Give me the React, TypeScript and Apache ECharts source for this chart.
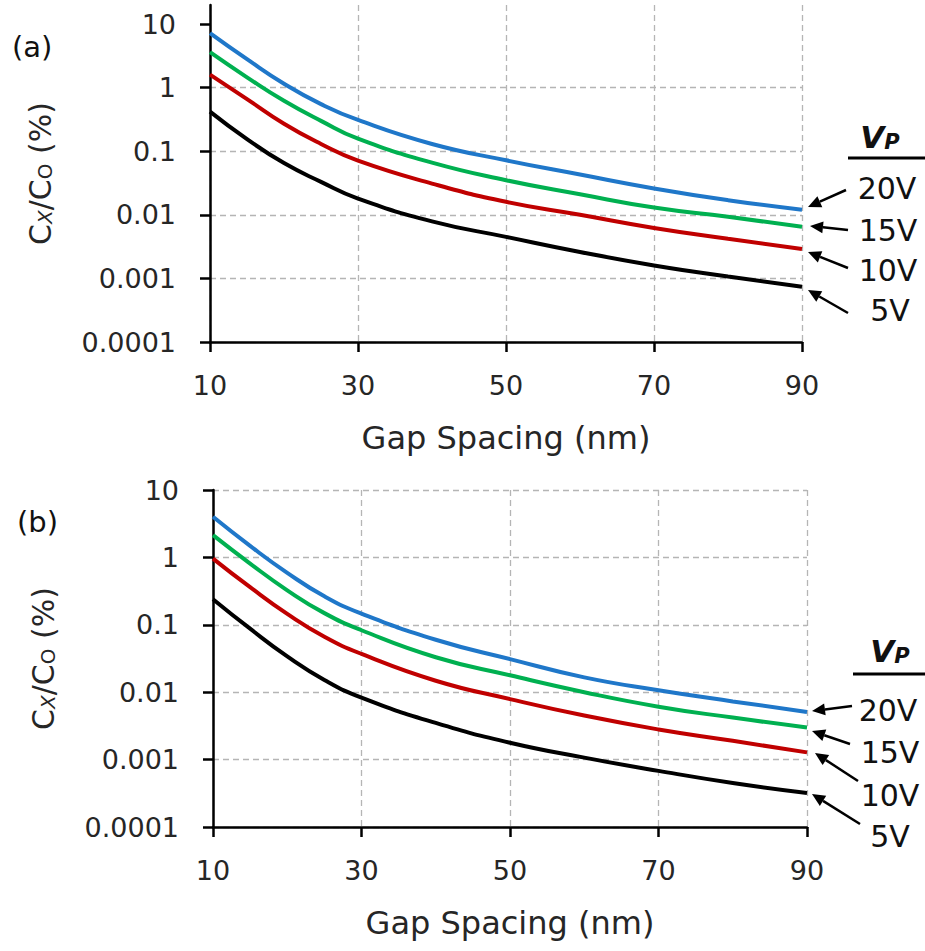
import React, { useEffect, useRef } from 'react';
import * as echarts from 'echarts';

// Gap spacing (nm) sampled along the curves
const GAP_NM = [10, 15, 20, 25, 30, 40, 50, 60, 70, 80, 90];

// Panel (a) : Cx/Co (%)
const A_20V = [7.2, 2.8, 1.15, 0.55, 0.31, 0.13, 0.072, 0.043, 0.026, 0.017, 0.012];
const A_15V = [3.6, 1.45, 0.62, 0.3, 0.157, 0.066, 0.035, 0.021, 0.013, 0.0093, 0.0065];
const A_10V = [1.6, 0.66, 0.27, 0.13, 0.071, 0.031, 0.016, 0.01, 0.0062, 0.0042, 0.0029];
const A_5V = [0.42, 0.155, 0.065, 0.033, 0.018, 0.0079, 0.0045, 0.0026, 0.0016, 0.00107, 0.00074];

// Panel (b) : Cx/Co (%)
const B_20V = [4.0, 1.48, 0.59, 0.265, 0.146, 0.06, 0.031, 0.0166, 0.0107, 0.0073, 0.0051];
const B_15V = [2.14, 0.81, 0.325, 0.149, 0.083, 0.033, 0.0178, 0.01, 0.0061, 0.0042, 0.003];
const B_10V = [0.96, 0.361, 0.145, 0.0665, 0.037, 0.0148, 0.0079, 0.0045, 0.0028, 0.0019, 0.00128];
const B_5V = [0.24, 0.0875, 0.034, 0.0152, 0.0083, 0.0035, 0.00178, 0.00107, 0.00068, 0.00045, 0.00032];

const VOLT_LABELS = ['20V', '15V', '10V', '5V'];
const SERIES_COLORS = ['#1f77c9', '#00b050', '#c00000', '#000000'];
const PANEL_LABELS = ['(a)', '(b)'];
const PANELS = [
  [A_20V, A_15V, A_10V, A_5V],
  [B_20V, B_15V, B_10V, B_5V],
];

const X_MIN = 10;
const X_MAX = 90;
const X_STEP = 20;
const Y_TICK_LABELS = ['0.0001', '0.001', '0.01', '0.1', '1', '10'];
const Y_TICK_VALUES = Y_TICK_LABELS.map(Number);
const Y_MIN = 0.0001;
const Y_MAX_A = 19.9; // panel (a) plot area runs a bit above 10
const Y_MAX_B = 10;

const FONT = 'DejaVu Sans';
const TEXT_COLOR = '#262626';

const yLabel = (v: number) => {
  for (let i = 0; i < Y_TICK_VALUES.length; i++) {
    if (Math.abs(v - Y_TICK_VALUES[i]) / Y_TICK_VALUES[i] < 0.01) return Y_TICK_LABELS[i];
  }
  return '';
};

const arrow = (x1: number, y1: number, x2: number, y2: number) => {
  const a = Math.atan2(y2 - y1, x2 - x1);
  const L = 13;
  const W = 6;
  const c = Math.cos(a);
  const s = Math.sin(a);
  const bx = x2 - L * c;
  const by = y2 - L * s;
  return [
    {
      type: 'line',
      shape: { x1, y1, x2: bx, y2: by },
      style: { stroke: '#000', lineWidth: 2.5 },
      silent: true,
    },
    {
      type: 'polygon',
      shape: { points: [[x2, y2], [bx + W * s, by - W * c], [bx - W * s, by + W * c]] },
      style: { fill: '#000' },
      silent: true,
    },
  ];
};

const txt = (text: string, x: number, y: number, size: number, align = 'center') => ({
  type: 'text',
  x,
  y,
  silent: true,
  style: {
    text,
    x: 0,
    y: 0,
    fill: '#111',
    font: `${size}px "${FONT}"`,
    fontSize: size,
    fontFamily: FONT,
    align,
    verticalAlign: 'middle',
    textAlign: align,
    textVerticalAlign: 'middle',
  },
});

const vpText = (x: number, y: number) => ({
  type: 'text',
  x,
  y,
  silent: true,
  style: {
    text: '{v|V}{p|P}',
    align: 'center',
    verticalAlign: 'middle',
    textAlign: 'center',
    textVerticalAlign: 'middle',
    rich: {
      v: { fontSize: 31, fontWeight: 'bold', fontStyle: 'italic', fontFamily: FONT, lineHeight: 32, verticalAlign: 'bottom', fill: '#111', color: '#111' },
      p: { fontSize: 21, fontWeight: 'bold', fontStyle: 'italic', fontFamily: FONT, lineHeight: 10, verticalAlign: 'bottom', fill: '#111', color: '#111' },
    },
  },
});

// annotation layout (pixels)
const ANNOT = [
  {
    panel: { x: 12, y: 47 },
    vp: { x: 880, y: 136 },
    rule: { x1: 848, x2: 925, y: 158 },
    labels: [
      { x: 887, y: 188 },
      { x: 888, y: 230 },
      { x: 888, y: 270 },
      { x: 890, y: 310 },
    ],
    arrows: [
      [846, 190, 808, 207],
      [848, 230, 810, 226],
      [848, 268, 808, 252],
      [848, 313, 808, 290],
    ],
  },
  {
    panel: { x: 17, y: 522 },
    vp: { x: 890, y: 650 },
    rule: { x1: 853, x2: 925, y: 674 },
    labels: [
      { x: 888, y: 710 },
      { x: 890, y: 752 },
      { x: 890, y: 795 },
      { x: 890, y: 836 },
    ],
    arrows: [
      [852, 706, 812, 711],
      [850, 744, 812, 731],
      [858, 781, 815, 753],
      [860, 824, 812, 794],
    ],
  },
];

const GRIDS = [
  { left: 210, top: 5, width: 592, height: 337 },
  { left: 213, top: 490, width: 594, height: 337 },
];

export default function App() {
  const ref = useRef<HTMLDivElement>(null);

  useEffect(() => {
    if (!ref.current) return;
    const chart = echarts.init(ref.current, null, { renderer: 'svg' });

    const axisLine = { show: true, lineStyle: { color: '#000', width: 2.5 } };
    const axisTick = { show: true, length: 10, lineStyle: { color: '#000', width: 2.5 } };
    const splitLine = { show: true, lineStyle: { color: '#b5b5b5', width: 1.3, type: [6, 4] } };

    const xAxes = GRIDS.map((_, i) => ({
      gridIndex: i,
      type: 'value',
      min: X_MIN,
      max: X_MAX,
      interval: X_STEP,
      axisLine,
      axisTick,
      axisLabel: { margin: 30, fontSize: 27, fontFamily: FONT, color: TEXT_COLOR },
      splitLine,
      name: 'Gap Spacing (nm)',
      nameLocation: 'middle',
      nameGap: 80,
      nameTextStyle: { fontSize: 32, fontFamily: FONT, color: TEXT_COLOR },
    }));

    const yAxes = GRIDS.map((_, i) => ({
      gridIndex: i,
      type: 'log',
      logBase: 10,
      min: Y_MIN,
      max: i === 0 ? Y_MAX_A : Y_MAX_B,
      axisLine,
      axisTick: { ...axisTick, customValues: Y_TICK_VALUES },
      axisLabel: {
        margin: 34,
        fontSize: 27,
        fontFamily: FONT,
        color: TEXT_COLOR,
        formatter: (v: number) => yLabel(v),
        showMaxLabel: i !== 0,
      },
      splitLine: { ...splitLine, showMaxLine: i !== 0 },
      name: '{c|C}{s|X}{c|/C}{o|O}{c| (%)}',
      nameLocation: 'middle',
      nameRotate: 90,
      nameGap: 155,
      nameTextStyle: {
        rich: {
          c: { fontSize: 30, fontFamily: FONT, color: TEXT_COLOR, lineHeight: 32, verticalAlign: 'bottom' },
          s: { fontSize: 20, fontFamily: FONT, fontStyle: 'italic', color: TEXT_COLOR, lineHeight: 10, verticalAlign: 'bottom' },
          o: { fontSize: 20, fontFamily: FONT, color: TEXT_COLOR, lineHeight: 10, verticalAlign: 'bottom' },
        },
      },
    }));

    const series: any[] = [];
    PANELS.forEach((panel, i) => {
      panel.forEach((vals, j) => {
        series.push({
          type: 'line',
          name: `${PANEL_LABELS[i]} ${VOLT_LABELS[j]}`,
          xAxisIndex: i,
          yAxisIndex: i,
          data: GAP_NM.map((g, k) => [g, vals[k]]),
          showSymbol: false,
          symbol: 'none',
          smooth: 0.5,
          lineStyle: { width: 4, color: SERIES_COLORS[j] },
          itemStyle: { color: SERIES_COLORS[j] },
          z: 5,
        });
      });
    });

    const graphic: any[] = [];
    ANNOT.forEach((an, i) => {
      graphic.push(txt(PANEL_LABELS[i], an.panel.x, an.panel.y, 29, 'left'));
      graphic.push(vpText(an.vp.x, an.vp.y));
      graphic.push({
        type: 'line',
        silent: true,
        shape: { x1: an.rule.x1, y1: an.rule.y, x2: an.rule.x2, y2: an.rule.y },
        style: { stroke: '#000', lineWidth: 3 },
      });
      an.labels.forEach((p, j) => graphic.push(txt(VOLT_LABELS[j], p.x, p.y, 30)));
      an.arrows.forEach((a) => graphic.push(...arrow(a[0], a[1], a[2], a[3])));
    });

    chart.setOption({
      animation: false,
      backgroundColor: '#ffffff',
      grid: GRIDS.map((g) => ({ ...g, containLabel: false })),
      xAxis: xAxes,
      yAxis: yAxes,
      series,
      graphic,
    });

    return () => chart.dispose();
  }, []);

  return (
    <div
      ref={ref}
      style={{ position: 'absolute', left: 0, top: 0, width: 925, height: 951, background: '#fff' }}
    />
  );
}
